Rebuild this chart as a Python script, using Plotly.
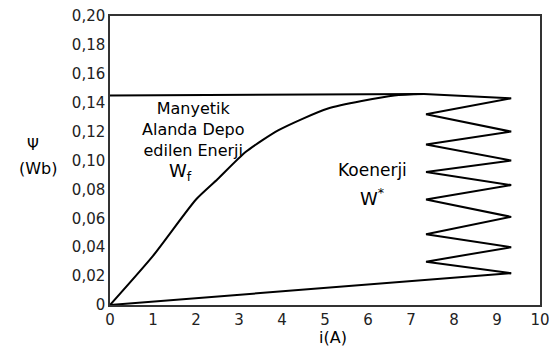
import plotly.graph_objects as go

# Magnetization curve psi(i) (values read against the printed tick labels)
curve_i = [0, 1.0, 2.0, 2.5, 3.16, 3.92, 5.07, 6.61, 7.30]
curve_psi = [0, 0.034, 0.073, 0.087, 0.106, 0.121, 0.136, 0.145, 0.146]

# Saturation (horizontal) line
flat_i = [0, 7.30]
flat_psi = [0.145, 0.146]

# Zig-zag (co-energy hatch) going from the curve end down to the bottom line
zig_i = [7.30, 9.33, 7.35, 9.33, 7.35, 9.33, 7.35, 9.33, 7.35, 9.33, 7.35, 9.33, 7.35, 9.33]
zig_psi = [0.146, 0.143, 0.132, 0.120, 0.111, 0.100, 0.092, 0.083, 0.073, 0.061, 0.049, 0.040, 0.030, 0.022]

# Bottom line back to the origin
base_i = [9.33, 0]
base_psi = [0.022, 0]

x_ticks = list(range(0, 11))
y_ticks = [0, 0.02, 0.04, 0.06, 0.08, 0.10, 0.12, 0.14, 0.16, 0.18, 0.20]
y_tick_text = ["0", "0,02", "0,04", "0,06", "0,08", "0,10", "0,12", "0,14", "0,16", "0,18", "0,20"]

FONT = "DejaVu Sans"
line_style = dict(color="black", width=2)

fig = go.Figure()
fig.add_trace(go.Scatter(x=curve_i, y=curve_psi, mode="lines", line=dict(shape="spline", smoothing=0.6, **line_style), hoverinfo="skip"))
fig.add_trace(go.Scatter(x=flat_i, y=flat_psi, mode="lines", line=line_style, hoverinfo="skip"))
fig.add_trace(go.Scatter(x=zig_i, y=zig_psi, mode="lines", line=line_style, hoverinfo="skip"))
fig.add_trace(go.Scatter(x=base_i, y=base_psi, mode="lines", line=line_style, hoverinfo="skip"))

def ann(text, x, y, size):
    fig.add_annotation(xref="paper", yref="paper", x=x, y=y, text=text, showarrow=False,
                       xanchor="center", yanchor="middle", align="center",
                       font=dict(family=FONT, size=size, color="black"))

ann("Manyetik<br>Alanda Depo<br>edilen Enerji", 0.195, 0.608, 16)
ann("W<sub>f</sub>", 0.163, 0.46, 18)
ann("Koenerji", 0.61, 0.466, 17)
ann("W<sup>*</sup>", 0.61, 0.372, 18)
ann("Ψ", -0.179, 0.554, 15)
ann("(Wb)", -0.167, 0.474, 16)
ann("i(A)", 0.519, -0.114, 16)

fig.update_layout(
    width=557, height=352,
    margin=dict(l=102, r=25, t=8, b=55),
    paper_bgcolor="white", plot_bgcolor="white",
    showlegend=False,
    font=dict(family=FONT, size=15, color="#222"),
    xaxis=dict(range=[0, 10], tickvals=x_ticks, showgrid=False, zeroline=False, automargin=False,
               ticklabeloverflow="allow",
               showline=True, mirror=True, linecolor="#333", linewidth=1.5, ticks=""),
    yaxis=dict(range=[0, 0.20], tickvals=y_ticks, ticktext=y_tick_text, showgrid=False, zeroline=False,
               automargin=False, ticklabeloverflow="allow",
               showline=True, mirror=True, linecolor="#333", linewidth=1.5, ticks=""),
)

fig.write_html("out.html")
